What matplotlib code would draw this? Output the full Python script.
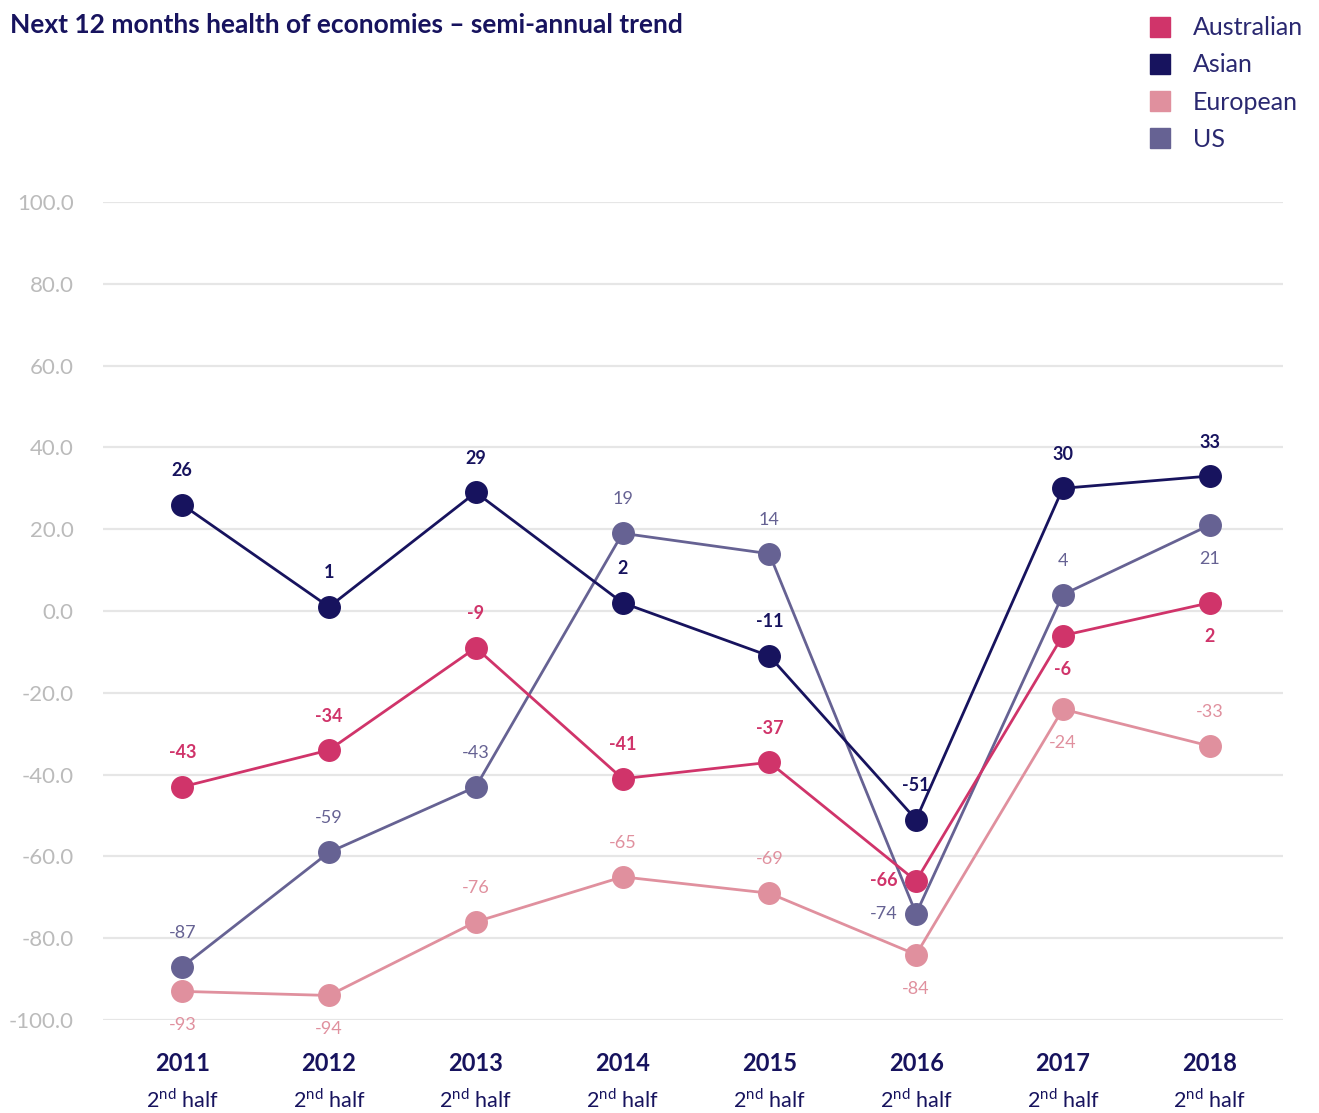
import matplotlib
matplotlib.use("Agg")
import matplotlib.pyplot as plt
from matplotlib.lines import Line2D
import matplotlib.transforms as mtransforms

plt.rcParams['font.family'] = ['Lato', 'DejaVu Sans']
plt.rcParams['mathtext.fontset'] = 'custom'
plt.rcParams['mathtext.rm'] = 'Lato'

years = ["2011", "2012", "2013", "2014", "2015", "2016", "2017", "2018"]
sub_label = "2$^{\\mathrm{nd}}$ half"
series_names = ["Australian", "Asian", "European", "US"]
australian = [-43, -34, -9, -41, -37, -66, -6, 2]
asian = [26, 1, 29, 2, -11, -51, 30, 33]
european = [-93, -94, -76, -65, -69, -84, -24, -33]
us = [-87, -59, -43, 19, 14, -74, 4, 21]
values = [australian, asian, european, us]

colors = ["#D0346A", "#17135E", "#E0909E", "#666293"]
label_bold = [True, True, False, False]
# label placement per point: 'a' above, 'b' below, 'l' left
placements = [
    ['a', 'a', 'a', 'a', 'a', 'l', 'b', 'b'],
    ['a', 'a', 'a', 'a', 'a', 'a', 'a', 'a'],
    ['b', 'b', 'a', 'a', 'a', 'b', 'b', 'a'],
    ['a', 'a', 'a', 'a', 'a', 'l', 'a', 'b'],
]
z_order = [4, 5, 2, 3]

fig = plt.figure(figsize=(13.19, 11.13), dpi=100)
ax = fig.add_axes([103/1319, 1-1020/1113, (1283-103)/1319, (1020-202)/1113])
x = list(range(len(years)))

for name, vals, c, bold, pl, z in zip(series_names, values, colors, label_bold, placements, z_order):
    ax.plot(x, vals, color=c, lw=2, marker='o', ms=15.5, mec=c, mfc=c,
            zorder=z, clip_on=False, label=name)
    for xi, v, p in zip(x, vals, pl):
        if p == 'a':
            off, ha, va = (0, 24.5), 'center', 'center'
        elif p == 'b':
            off, ha, va = (0, -24.5), 'center', 'center'
        else:
            off, ha, va = (-13, 0), 'right', 'center'
        ax.annotate(str(v), (xi, v), xytext=off, textcoords='offset points',
                    ha=ha, va=va, color=c, fontsize=13,
                    fontweight='bold' if bold else 'normal', zorder=6)

ax.set_xlim(-0.54, 7.5)
ax.set_ylim(-100, 100)
ax.set_yticks(range(-100, 101, 20))
ax.set_yticklabels([f"{t:.1f}" for t in range(-100, 101, 20)])
ax.tick_params(axis='y', length=0, pad=21, labelsize=16, labelcolor='#BBBBBB')
ax.set_xticks(x)
ax.set_xticklabels(years, fontsize=17, fontweight='bold', color='#17135E')
ax.tick_params(axis='x', length=0, pad=23)
trans = mtransforms.blended_transform_factory(ax.transData, fig.transFigure)
for xi in x:
    ax.text(xi, 1 - 1100/1113, sub_label, transform=trans, ha='center', va='center',
            fontsize=15.5, color='#17135E')

ax.grid(axis='y', color='#E6E6E6', lw=1.6)
ax.set_axisbelow(True)
for s in ax.spines.values():
    s.set_visible(False)

fig.text(10/1319, 1 - 25/1113, "Next 12 months health of economies – semi-annual trend",
         fontsize=19, fontweight='bold', color='#17135E', ha='left', va='center')

handles = [Line2D([], [], ls='none', marker='s', ms=14, mfc=c, mec=c) for c in colors]
leg = fig.legend(handles, series_names, loc='upper right', bbox_to_anchor=(1.0, 1.0),
                 frameon=False, fontsize=18, handlelength=1.0, handletextpad=0.8,
                 labelspacing=0.57, borderaxespad=0.25)
for t in leg.get_texts():
    t.set_color('#2A2870')

fig.savefig("out.png", dpi=100)
